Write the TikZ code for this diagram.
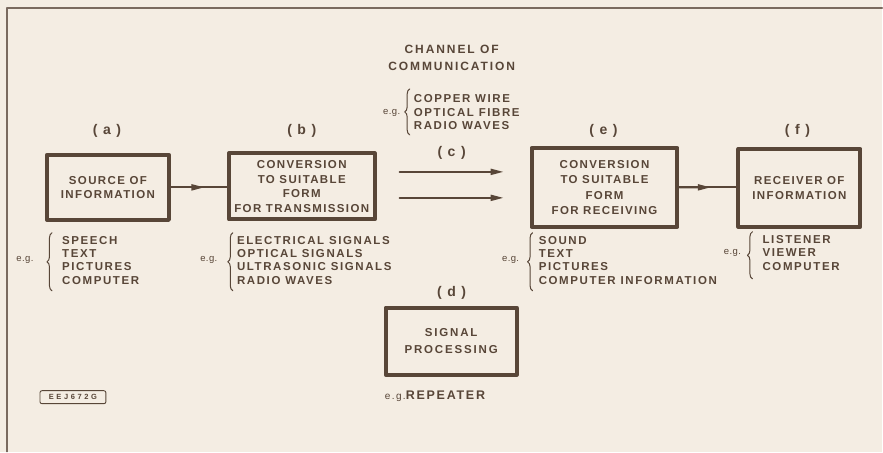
\documentclass[tikz,border=0pt]{standalone}
\usepackage{fontspec}
\setmainfont{Liberation Sans}[LetterSpace=12]
\usetikzlibrary{arrows.meta,calc,decorations.pathreplacing}
\definecolor{scanPaper}{HTML}{F4EDE3}
\definecolor{scanInk}{HTML}{584638}
\definecolor{scanLine}{HTML}{7A6A5F}

\begin{document}
\begin{tikzpicture}[x=1pt,y=-1pt,>=Latex,line cap=round,line join=round]
\path[fill=scanPaper] (0,0) rectangle (883,452);
\tikzset{block/.style={draw=scanInk,line width=4pt,fill=scanPaper,align=center,text=scanInk,font=\bfseries\fontsize{11.5}{14.5}\selectfont,inner sep=0pt},wire/.style={draw=scanInk,line width=2pt},tip/.style={-{Triangle[length=13pt,width=6pt]}},tag/.style={text=scanInk,font=\bfseries\fontsize{14}{14}\selectfont},list/.style={anchor=west,align=left,text=scanInk,font=\bfseries\fontsize{11.5}{13.5}\selectfont\addfontfeature{LetterSpace=14},inner sep=0pt},eg/.style={text=scanInk,font=\fontsize{9.5}{9.5}\selectfont\addfontfeature{LetterSpace=4},inner sep=0pt},curly/.style={draw=scanInk,line width=1pt,decorate,decoration={brace,amplitude=5pt}}}
% frame of the scan
\draw[draw=scanLine,line width=1.4pt] (7,452) -- (7,8) -- (883,8);
% blocks
\node[block,minimum width=122,minimum height=65] (src) at (108,187.5) {SOURCE OF\\INFORMATION};
\node[block,minimum width=146,minimum height=66] (conv) at (302,186.5) {CONVERSION\\TO SUITABLE\\FORM\\FOR TRANSMISSION};
\node[block,minimum width=146,minimum height=79,font=\bfseries\fontsize{11.5}{15.5}\selectfont] (recv) at (605,187.5) {CONVERSION\\TO SUITABLE\\FORM\\FOR RECEIVING};
\node[block,minimum width=122,minimum height=78] (sink) at (800,188) {RECEIVER OF\\INFORMATION};
\node[block,minimum width=131,minimum height=67,font=\bfseries\fontsize{11.5}{17}\selectfont\addfontfeature{LetterSpace=16}] (proc) at (451.5,341.5) {SIGNAL\\PROCESSING};
% tags
\node[tag] (ta) at (107,131) {( a )}; \node[tag] (tb) at (302,131) {( b )}; \node[tag] (tc) at (452,153) {( c )};
\node[tag] (td) at (452,293) {( d )}; \node[tag] (te) at (604,131) {( e )}; \node[tag] (tf) at (798,131) {( f )};
% links
\draw[wire] (src.east) -- (src.east -| conv.west); \draw[wire,tip] (src.east) -- ($(src.east)!.6!(src.east -| conv.west)$);
\draw[wire] (recv.east) -- (recv.east -| sink.west); \draw[wire,tip] (recv.east) -- ($(recv.east)!.55!(recv.east -| sink.west)$);
\coordinate (ch1a) at (400,172); \coordinate (ch1b) at (504,172); \coordinate (ch2a) at (400,198); \coordinate (ch2b) at (504,198);
\draw[wire,tip] (ch1a) -- (ch1b); \draw[wire,tip] (ch2a) -- (ch2b);
% channel
\node[list,anchor=center,align=center,font=\bfseries\fontsize{12}{17}\selectfont\addfontfeature{LetterSpace=16}] (chan) at (452,58) {CHANNEL OF\\COMMUNICATION};
\node[eg] (egc) at (392,113) {e.g.}; \draw[curly] (410,135) -- (410,89); \node[list] (lc) at (414,112.5) {COPPER WIRE\\OPTICAL FIBRE\\RADIO WAVES};
% examples
\node[eg] (ega) at (25,260) {e.g.}; \draw[curly] (52,291) -- (52,233); \node[list] (la) at (62,260.5) {SPEECH\\TEXT\\PICTURES\\COMPUTER};
\node[eg] (egb) at (209,260) {e.g.}; \draw[curly] (233,291) -- (233,233); \node[list] (lb) at (237,260.5) {ELECTRICAL SIGNALS\\OPTICAL SIGNALS\\ULTRASONIC SIGNALS\\RADIO WAVES};
\node[eg] (ege) at (511,260) {e.g.}; \draw[curly] (533,291) -- (533,233); \node[list] (le) at (539,260.5) {SOUND\\TEXT\\PICTURES\\COMPUTER INFORMATION};
\node[eg] (egf) at (733,253) {e.g.}; \draw[curly] (753,279) -- (753,232); \node[list] (lf) at (763,253) {LISTENER\\VIEWER\\COMPUTER};
\node[text=scanInk,font=\bfseries\fontsize{12.5}{12.5}\selectfont\addfontfeature{LetterSpace=14},anchor=west,inner sep=0pt] (rep) at (385,397) {{\mdseries\fontsize{10}{10}\selectfont e.g.}REPEATER};
% figure code
\node[draw=scanInk,line width=0.9pt,rounded corners=2pt,text=scanInk,font=\bfseries\fontsize{7.5}{7.5}\selectfont\addfontfeature{LetterSpace=35},minimum width=66,minimum height=13,inner sep=0pt] (code) at (73,397.5) {EEJ672G};
\end{tikzpicture}
\end{document}
